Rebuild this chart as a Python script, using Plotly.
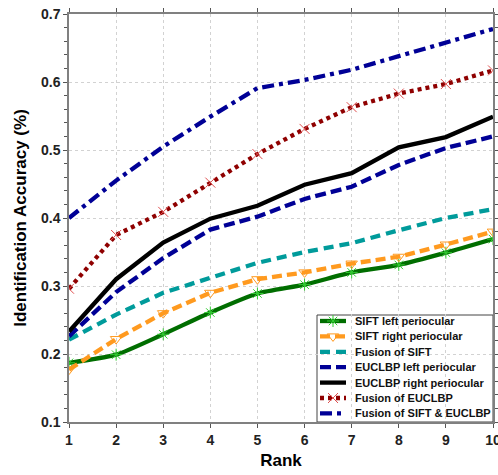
import plotly.graph_objects as go

rank = [1, 2, 3, 4, 5, 6, 7, 8, 9, 10]

sift_left = [0.187, 0.199, 0.229, 0.261, 0.289, 0.302, 0.320, 0.331, 0.349, 0.369]
sift_right = [0.177, 0.222, 0.260, 0.290, 0.310, 0.320, 0.333, 0.343, 0.361, 0.380]
sift_fusion = [0.221, 0.258, 0.290, 0.312, 0.334, 0.350, 0.363, 0.382, 0.400, 0.413]
euclbp_left = [0.226, 0.291, 0.341, 0.383, 0.402, 0.428, 0.446, 0.478, 0.503, 0.520]
euclbp_right = [0.233, 0.310, 0.364, 0.399, 0.418, 0.449, 0.466, 0.504, 0.519, 0.549]
euclbp_fusion = [0.296, 0.375, 0.409, 0.452, 0.494, 0.531, 0.563, 0.583, 0.597, 0.617]
all_fusion = [0.400, 0.455, 0.505, 0.549, 0.591, 0.603, 0.618, 0.638, 0.658, 0.678]

# name, values, line colour, dash, marker symbol, marker colour, line shape
series = [
    ("SIFT left periocular", sift_left, "#006e00", "solid", "asterisk-open", "#33cc33", "spline"),
    ("SIFT right periocular", sift_right, "#ff9a1f", "10px,5px", "triangle-down-open", "#ff9a1f", "linear"),
    ("Fusion of SIFT", sift_fusion, "#009b9b", "10px,6px", None, None, "linear"),
    ("EUCLBP left periocular", euclbp_left, "#000096", "11px,5px", None, None, "linear"),
    ("EUCLBP right periocular", euclbp_right, "#000000", "solid", None, None, "linear"),
    ("Fusion of EUCLBP", euclbp_fusion, "#8f0000", "4px,4px", "x-thin-open", "#e05050", "linear"),
    ("Fusion of SIFT & EUCLBP", all_fusion, "#000096", "12px,5px,4px,5px", None, None, "linear"),
]

W, H = 498, 475
M_L, M_R, M_T, M_B = 69, 5, 14, 53
PW, PH = W - M_L - M_R, H - M_T - M_B

FONT = "Arial, Liberation Sans, sans-serif"

fig = go.Figure()
for name, vals, color, dash, symbol, mcolor, shape in series:
    kw = dict(mode="lines")
    if symbol:
        kw = dict(mode="lines+markers",
                  marker=dict(symbol=symbol, size=10,
                              color=mcolor, line=dict(width=1, color=mcolor)))
    fig.add_trace(go.Scatter(
        x=rank, y=vals, name=name, showlegend=False,
        line=dict(color=color, width=4.3, dash=dash, shape=shape, smoothing=0.6),
        **kw,
    ))

# Compact legend box in the lower-right corner, drawn on a 0..1 overlay axis
def px_x(p):
    return (p - M_L) / PW

def px_y(p):
    return (H - M_B - p) / PH

box_left, box_top = 317, 315
row0, row_step = 321, 15.4
sample_x0, sample_x1, text_x = 320, 346, 353

fig.add_shape(type="rect", xref="paper", yref="paper",
              x0=px_x(box_left), x1=1.0, y0=0.0, y1=px_y(box_top),
              line=dict(color="#444444", width=1), fillcolor="white", layer="between")

for i, (name, vals, color, dash, symbol, mcolor, shape) in enumerate(series):
    yc = px_y(row0 + i * row_step)
    fig.add_trace(go.Scatter(
        x=[px_x(sample_x0), px_x(sample_x1)], y=[yc, yc], xaxis="x2", yaxis="y2",
        mode="lines", line=dict(color=color, width=4.3, dash=dash),
        showlegend=False, hoverinfo="skip",
    ))
    if symbol:
        fig.add_trace(go.Scatter(
            x=[px_x((sample_x0 + sample_x1) / 2)], y=[yc], xaxis="x2", yaxis="y2",
            mode="markers",
            marker=dict(symbol=symbol, size=10, color=mcolor, line=dict(width=1, color=mcolor)),
            showlegend=False, hoverinfo="skip",
        ))
    fig.add_annotation(
        x=px_x(text_x), y=yc, xref="paper", yref="paper",
        xanchor="left", yanchor="middle", showarrow=False,
        text=f"<b>{name}</b>", font=dict(family=FONT, size=11, color="#111111"),
    )

tick_font = dict(family=FONT, size=14, color="#222222", weight="bold")
title_font = dict(family=FONT, size=17, color="#000000")

fig.update_layout(
    width=W, height=H,
    margin=dict(l=M_L, r=M_R, t=M_T, b=M_B),
    paper_bgcolor="white", plot_bgcolor="white",
    font=dict(family=FONT),
    showlegend=False,
    xaxis2=dict(overlaying="x", range=[0, 1], visible=False, fixedrange=True),
    yaxis2=dict(overlaying="y", range=[0, 1], visible=False, fixedrange=True),
)

fig.layout.xaxis.update(
    range=[1, 10], tickmode="array", tickvals=rank, automargin=False,
    ticklabeloverflow="allow",
    title=dict(text="<b>Rank</b>", font=title_font, standoff=8),
    tickfont=tick_font,
    showline=True, linecolor="#808080", linewidth=1.5, mirror="ticks",
    ticks="outside", ticklen=4, tickcolor="#555555",
    showgrid=True, gridcolor="#d2d2d2", griddash="dot", gridwidth=1,
    zeroline=False,
)
fig.layout.yaxis.update(
    range=[0.1, 0.7], dtick=0.1, tickformat=".1f", automargin=False,
    title=dict(text="<b>Identification Accuracy (%)</b>", font=title_font, standoff=10),
    tickfont=tick_font,
    showline=True, linecolor="#808080", linewidth=1.5, mirror="ticks",
    ticks="outside", ticklen=4, tickcolor="#555555",
    minor=dict(dtick=0.02, ticks="outside", ticklen=3, tickcolor="#555555", showgrid=False),
    showgrid=True, gridcolor="#d2d2d2", griddash="dot", gridwidth=1,
    zeroline=False,
)

fig.write_html("out.html")
